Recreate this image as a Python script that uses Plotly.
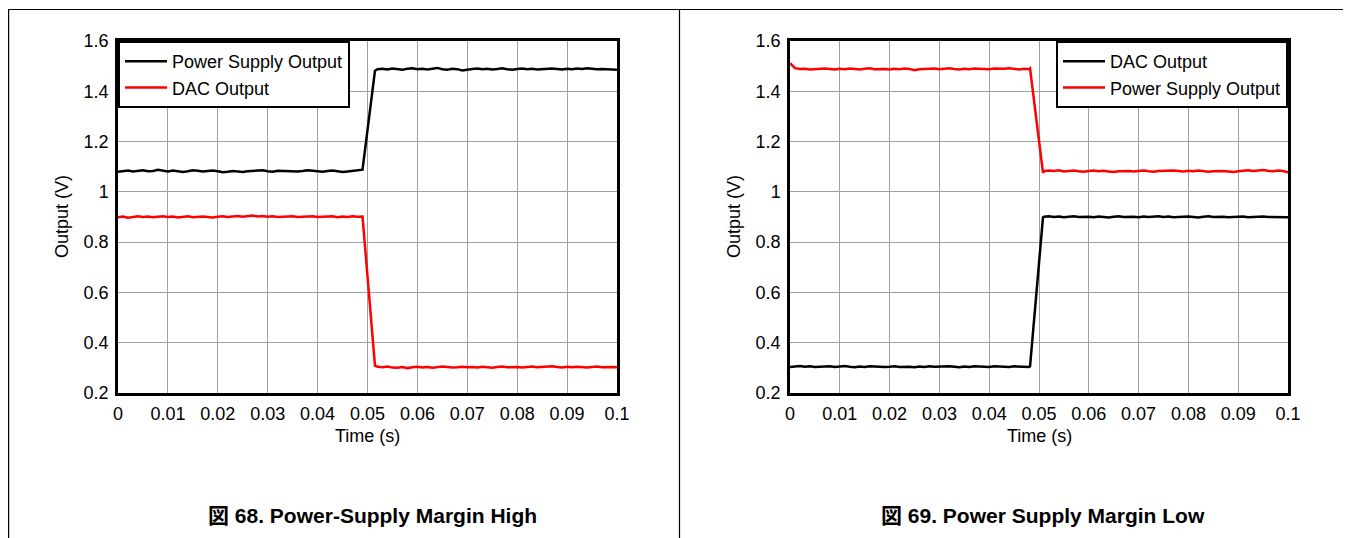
import plotly.graph_objects as go

# ---- data -------------------------------------------------------------
# left panel (Margin High): step between 0.049 s and 0.0515 s
t_left = [i / 1000 for i in range(0, 50)] + [0.0515] + [i / 1000 for i in range(52, 101)]
psu_high = [
    1.080, 1.082, 1.085, 1.081, 1.084, 1.086, 1.082, 1.083, 1.088, 1.084,
    1.081, 1.085, 1.083, 1.079, 1.082, 1.086, 1.084, 1.081, 1.083, 1.085,
    1.082, 1.078, 1.080, 1.083, 1.081, 1.079, 1.082, 1.084, 1.083, 1.086,
    1.082, 1.080, 1.084, 1.083, 1.085, 1.082, 1.081, 1.083, 1.086, 1.084,
    1.082, 1.080, 1.083, 1.085, 1.082, 1.079, 1.081, 1.083, 1.086, 1.088,
    1.482, 1.488, 1.490, 1.487, 1.491, 1.489, 1.486, 1.490, 1.492, 1.488,
    1.490, 1.487, 1.489, 1.493, 1.488, 1.486, 1.490, 1.488, 1.483, 1.487,
    1.489, 1.491, 1.488, 1.490, 1.487, 1.489, 1.492, 1.488, 1.486, 1.489,
    1.491, 1.488, 1.490, 1.487, 1.489, 1.488, 1.491, 1.489, 1.487, 1.490,
    1.488, 1.491, 1.489, 1.492, 1.490, 1.488, 1.489, 1.487, 1.488, 1.486,
]
dac_high = [
    0.899, 0.902, 0.897, 0.901, 0.903, 0.900, 0.902, 0.899, 0.901, 0.903,
    0.900, 0.902, 0.898, 0.901, 0.903, 0.899, 0.901, 0.902, 0.900, 0.898,
    0.901, 0.903, 0.900, 0.902, 0.904, 0.901, 0.903, 0.906, 0.902, 0.904,
    0.901, 0.903, 0.900, 0.902, 0.901, 0.903, 0.900, 0.902, 0.901, 0.903,
    0.900, 0.902, 0.901, 0.903, 0.899, 0.902, 0.900, 0.903, 0.901, 0.902,
    0.309, 0.304, 0.302, 0.305, 0.301, 0.300, 0.303, 0.299, 0.302, 0.304,
    0.301, 0.303, 0.300, 0.302, 0.305, 0.303, 0.301, 0.302, 0.304, 0.302,
    0.303, 0.301, 0.304, 0.302, 0.300, 0.303, 0.305, 0.302, 0.304, 0.303,
    0.301, 0.303, 0.305, 0.302, 0.304, 0.303, 0.306, 0.303, 0.301, 0.304,
    0.302, 0.304, 0.303, 0.301, 0.303, 0.305, 0.302, 0.304, 0.303, 0.302,
]

# right panel (Margin Low): step between 0.0482 s and 0.0508 s
t_right = [i / 1000 for i in range(0, 49)] + [0.0482, 0.0508] + [i / 1000 for i in range(51, 101)]
psu_low = [
    1.512, 1.492, 1.489, 1.490, 1.487, 1.489, 1.488, 1.491, 1.489, 1.487,
    1.490, 1.488, 1.491, 1.489, 1.487, 1.490, 1.492, 1.488, 1.490, 1.489,
    1.487, 1.490, 1.488, 1.491, 1.489, 1.484, 1.488, 1.490, 1.489, 1.491,
    1.488, 1.490, 1.492, 1.489, 1.487, 1.490, 1.488, 1.491, 1.489, 1.490,
    1.488, 1.491, 1.489, 1.490, 1.492, 1.489, 1.487, 1.490, 1.488, 1.491,
    1.076, 1.082, 1.085, 1.083, 1.086, 1.081, 1.083, 1.085, 1.082, 1.080,
    1.083, 1.085, 1.082, 1.084, 1.081, 1.079, 1.082, 1.084, 1.083, 1.081,
    1.083, 1.085, 1.082, 1.080, 1.083, 1.084, 1.082, 1.085, 1.083, 1.081,
    1.084, 1.082, 1.085, 1.083, 1.080, 1.082, 1.084, 1.083, 1.081, 1.079,
    1.082, 1.084, 1.086, 1.083, 1.085, 1.087, 1.084, 1.082, 1.085, 1.083, 1.078,
]
dac_low = [
    0.303, 0.305, 0.307, 0.304, 0.306, 0.303, 0.305, 0.304, 0.306, 0.303,
    0.305, 0.307, 0.304, 0.302, 0.305, 0.303, 0.306, 0.304, 0.305, 0.303,
    0.304, 0.306, 0.303, 0.305, 0.304, 0.302, 0.305, 0.303, 0.306, 0.304,
    0.305, 0.303, 0.306, 0.304, 0.302, 0.305, 0.303, 0.306, 0.304, 0.305,
    0.303, 0.306, 0.304, 0.305, 0.303, 0.306, 0.304, 0.305, 0.303, 0.306,
    0.898, 0.901, 0.903, 0.900, 0.902, 0.899, 0.901, 0.903, 0.900, 0.902,
    0.901, 0.899, 0.902, 0.900, 0.898, 0.901, 0.903, 0.900, 0.902, 0.901,
    0.899, 0.902, 0.900, 0.901, 0.903, 0.900, 0.902, 0.899, 0.901, 0.900,
    0.902, 0.900, 0.898, 0.901, 0.903, 0.900, 0.902, 0.901, 0.899, 0.901,
    0.900, 0.902, 0.899, 0.901, 0.900, 0.902, 0.900, 0.899, 0.901, 0.900, 0.899,
]

x_ticks = [0, 0.01, 0.02, 0.03, 0.04, 0.05, 0.06, 0.07, 0.08, 0.09, 0.1]
x_labels = ["0", "0.01", "0.02", "0.03", "0.04", "0.05", "0.06", "0.07", "0.08", "0.09", "0.1"]
y_ticks = [0.2, 0.4, 0.6, 0.8, 1.0, 1.2, 1.4, 1.6]
y_labels = ["0.2", "0.4", "0.6", "0.8", "1", "1.2", "1.4", "1.6"]
captions = ["図 68. Power-Supply Margin High", "図 69. Power Supply Margin Low"]

# ---- layout geometry ----------------------------------------------------
# the body margin is removed by a post script, so the figure fills the window
# and every position below is given in window pixels
W, H = 1351, 538
FONT = "Liberation Sans, Arial, sans-serif"
CAP_FONT = "Liberation Sans, Arial, Noto Sans CJK JP, sans-serif"


def px(x):
    return x / W


def py(y):
    return 1 - y / H


panels = [(118, 617), (790, 1288)]
plot_top, plot_bot = 41, 393

fig = go.Figure()

fig.add_trace(go.Scatter(x=t_left, y=psu_high, name="Power Supply Output", mode="lines",
                         line=dict(color="black", width=2.5), xaxis="x", yaxis="y", legend="legend"))
fig.add_trace(go.Scatter(x=t_left, y=dac_high, name="DAC Output", mode="lines",
                         line=dict(color="#ff0000", width=2.5), xaxis="x", yaxis="y", legend="legend"))
fig.add_trace(go.Scatter(x=t_right, y=dac_low, name="DAC Output", mode="lines",
                         line=dict(color="black", width=2.5), xaxis="x2", yaxis="y2", legend="legend2"))
fig.add_trace(go.Scatter(x=t_right, y=psu_low, name="Power Supply Output", mode="lines",
                         line=dict(color="#ff0000", width=2.5), xaxis="x2", yaxis="y2", legend="legend2"))

axis_common = dict(
    showline=True, linecolor="black", linewidth=2.5, mirror=True,
    showgrid=True, gridcolor="#a0a0a0", gridwidth=1,
    zeroline=False, ticks="", automargin=False,
    tickfont=dict(family=FONT, size=18, color="black"),
)

for i, (x0, x1) in enumerate(panels):
    sx = "" if i == 0 else str(i + 1)
    fig.update_layout(**{
        f"xaxis{sx}": dict(axis_common, domain=[px(x0), px(x1)], range=[0, 0.1],
                           tickvals=x_ticks, ticktext=x_labels, ticklabelstandoff=3,
                           anchor=f"y{sx}"),
        f"yaxis{sx}": dict(axis_common, domain=[py(plot_bot), py(plot_top)], range=[0.2, 1.6],
                           tickvals=y_ticks, ticktext=y_labels, ticklabelstandoff=3,
                           anchor=f"x{sx}"),
    })
    # axis titles
    fig.add_annotation(x=px((x0 + x1) / 2), y=py(436), xref="paper", yref="paper",
                       text="Time (s)", showarrow=False,
                       font=dict(family=FONT, size=18, color="black"),
                       xanchor="center", yanchor="middle")
    fig.add_annotation(x=px(x0 - 56), y=py((plot_top + plot_bot) / 2), xref="paper", yref="paper",
                       text="Output (V)", showarrow=False, textangle=-90,
                       font=dict(family=FONT, size=18, color="black"),
                       xanchor="center", yanchor="middle")
    # caption
    fig.add_annotation(x=px(372 + i * 671), y=py(515), xref="paper", yref="paper",
                       text=f"<b>{captions[i]}</b>", showarrow=False,
                       font=dict(family=CAP_FONT, size=21, color="black"),
                       xanchor="center", yanchor="middle")

legend_common = dict(
    bgcolor="white", bordercolor="black", borderwidth=2,
    font=dict(family=FONT, size=18, color="black"),
    yanchor="top", y=py(plot_top), tracegroupgap=0, itemwidth=42,
)
fig.update_layout(
    legend=dict(legend_common, x=px(118), xanchor="left"),
    legend2=dict(legend_common, x=px(1288), xanchor="right"),
)

# page frame: top rule, left rule, divider between the two figures
frame = dict(type="line", xref="paper", yref="paper", line=dict(color="black", width=1.2))
fig.add_shape(frame, x0=px(8), x1=px(1343), y0=py(9.5), y1=py(9.5))
fig.add_shape(frame, x0=px(8.6), x1=px(8.6), y0=0, y1=py(9.5))
fig.add_shape(frame, x0=px(679.5), x1=px(679.5), y0=0, y1=py(9.5))

fig.update_layout(
    width=W, height=H,
    margin=dict(l=0, r=0, t=0, b=0, autoexpand=False),
    paper_bgcolor="white", plot_bgcolor="white",
    showlegend=True,
)

fig.write_html(
    "out.html",
    config={"responsive": False, "displayModeBar": False},
    post_script="document.body.style.margin='0';document.body.style.overflow='hidden';",
)
